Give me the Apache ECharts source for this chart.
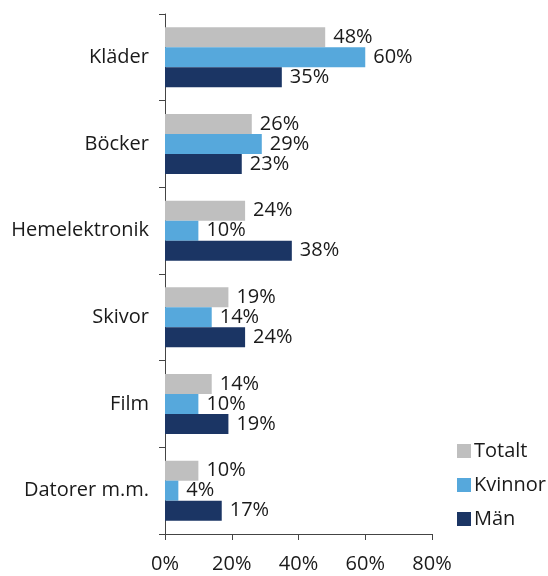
<!DOCTYPE html>
<html>
<head>
<meta charset="utf-8">
<script src="https://cdn.jsdelivr.net/npm/echarts@6/dist/echarts.min.js"></script>
<style>
  html, body { margin: 0; padding: 0; background: #fff; }
  #chart { width: 548px; height: 576px; }
</style>
</head>
<body>
<div id="chart"></div>
<script>
const categories = ['Kläder', 'Böcker', 'Hemelektronik', 'Skivor', 'Film', 'Datorer m.m.'];
const totalt = [48, 26, 24, 19, 14, 10];
const kvinnor = [60, 29, 10, 14, 10, 4];
const man = [35, 23, 38, 24, 19, 17];

const font = 'Open Sans';
const textColor = '#1a1a1a';

const makeSeries = (name, data, color) => ({
  name,
  type: 'bar',
  data,
  barWidth: 20,
  barGap: '0%',
  itemStyle: { color },
  label: {
    show: true,
    position: 'right',
    distance: 8,
    formatter: '{c}%',
    color: textColor,
    fontFamily: font,
    fontSize: 20,
  },
});

const chart = echarts.init(document.getElementById('chart'));
chart.setOption({
  animation: false,
  textStyle: { fontFamily: font },
  grid: { left: 165, right: 116, top: 14, bottom: 42 },
  legend: {
    orient: 'vertical',
    left: 452,
    top: 436,
    itemWidth: 14,
    itemHeight: 14,
    itemGap: 14,
    icon: 'rect',
    textStyle: { fontFamily: font, fontSize: 20, color: textColor, padding: [0, 0, 0, -2] },
    data: ['Totalt', 'Kvinnor', 'Män'],
  },
  xAxis: {
    type: 'value',
    min: 0,
    max: 80,
    interval: 20,
    axisLine: { show: true, lineStyle: { color: '#444' } },
    axisTick: { show: true, length: 6, lineStyle: { color: '#444' } },
    splitLine: { show: false },
    axisLabel: {
      formatter: '{value}%',
      color: textColor,
      fontFamily: font,
      fontSize: 20,
      margin: 20,
    },
  },
  yAxis: {
    type: 'category',
    data: categories,
    inverse: true,
    axisLine: { show: true, lineStyle: { color: '#444' } },
    axisTick: { show: true, length: 6, lineStyle: { color: '#444' } },
    axisLabel: {
      color: textColor,
      fontFamily: font,
      fontSize: 20,
      margin: 16,
    },
  },
  series: [
    makeSeries('Totalt', totalt, '#bfbfbf'),
    makeSeries('Kvinnor', kvinnor, '#56a8dc'),
    makeSeries('Män', man, '#1b3564'),
  ],
});
</script>
</body>
</html>
